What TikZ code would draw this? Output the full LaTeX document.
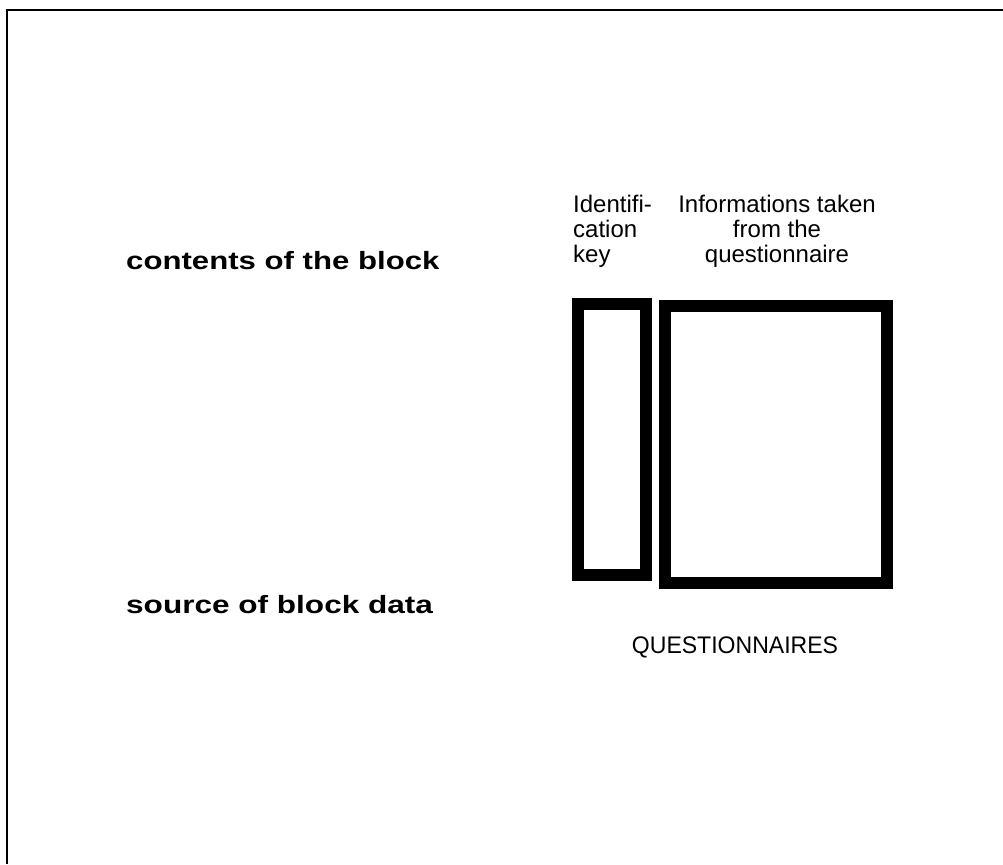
\documentclass[tikz,border=0pt]{standalone}
\usepackage{fontspec}
\setmainfont{Liberation Sans}
\begin{document}
\begin{tikzpicture}[x=1pt,y=-1pt,
  frame/.style={line width=2.5pt},
  field/.style={draw,line width=12pt,rectangle,inner sep=0pt},
  bigtxt/.style={inner sep=0pt,font=\bfseries\fontsize{25}{30}\selectfont},
  smalltxt/.style={inner sep=0pt,font=\fontsize{24}{25}\selectfont}]
\useasboundingbox (0,0) rectangle (1003,864);
\coordinate (fb) at (7,864);
\coordinate (fc) at (7,10);
\coordinate (fr) at (1003,10);
\draw[frame] (fb) -- (fc) -- (fr);
\node[field,minimum width=68pt,minimum height=271pt] (key) at (612,439.5) {};
\node[field,minimum width=222pt,minimum height=277pt] (info) at (776,444.5) {};
\node[bigtxt,anchor=base west] (contents) at (126,269) {\scalebox{1.246}[1]{contents of the block}};
\node[bigtxt,anchor=base west] (source) at (126,613) {\scalebox{1.262}[1]{source of block data}};
\node[smalltxt,anchor=north west,align=left] (keylbl) at (573,194.5) {Identifi-\\cation\\key};
\node[smalltxt,anchor=north,align=center] (infolbl) at (777,194.5) {Informations taken\\from the\\questionnaire};
\node[smalltxt,anchor=base] (quest) at (735,653) {\scalebox{0.96}[1]{QUESTIONNAIRES}};
\end{tikzpicture}
\end{document}
